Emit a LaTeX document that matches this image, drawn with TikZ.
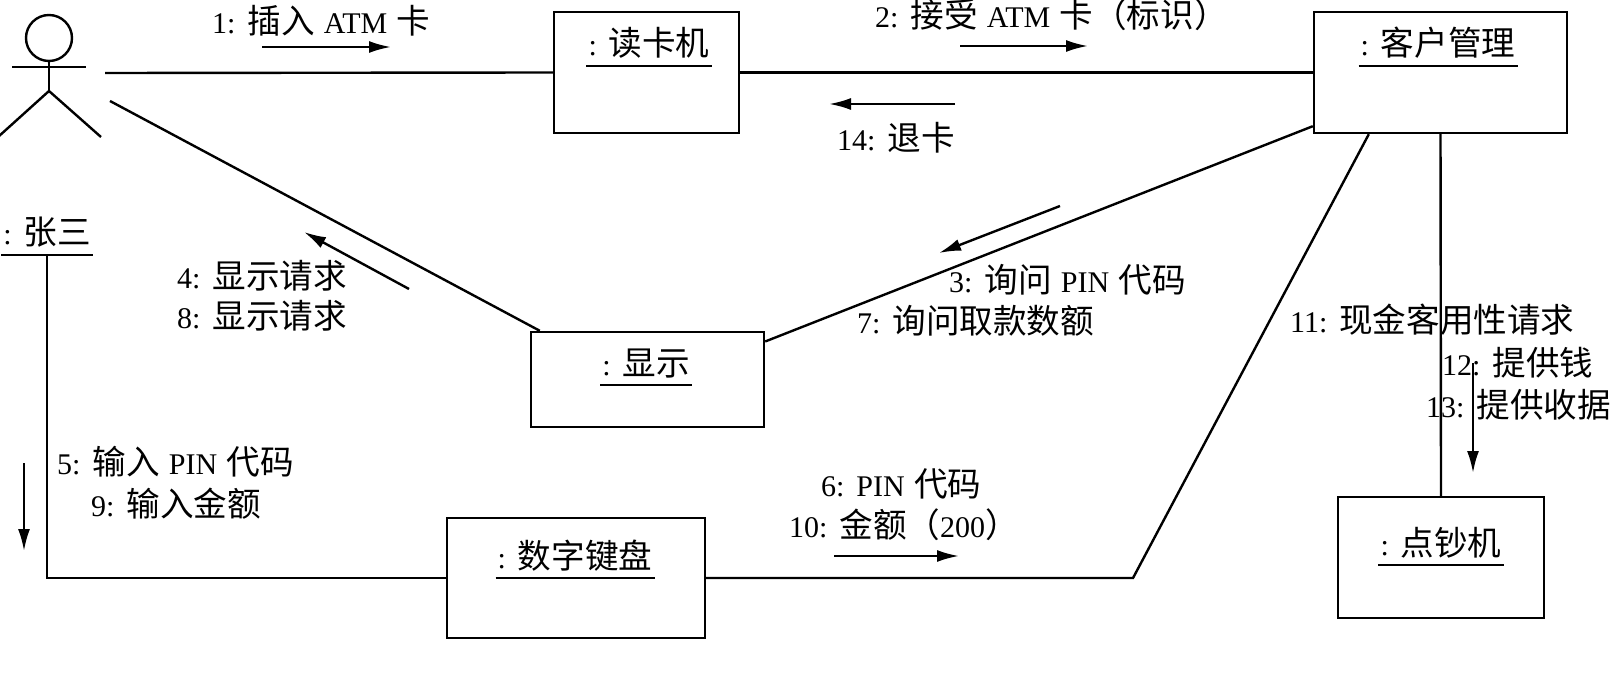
\documentclass[tikz,border=0pt]{standalone}
\usepackage{fontspec}
\setmainfont[WordSpace=1.25]{Liberation Serif}
\newfontfamily\cjk[Scale=1.12]{Noto Sans CJK SC}
\newcommand{\zh}[1]{{\cjk #1}}
\usepackage{tikz}
\usetikzlibrary{arrows.meta}

\begin{document}
\begin{tikzpicture}[x=1pt, y=-1pt, line width=2.4pt,
        every node/.style = {font=\fontsize{30}{32}\selectfont, inner sep=0pt},
        main/.style = {draw, rectangle},
        objname/.style = {anchor=base, inner sep=1pt, text height=22pt, text depth=8pt},
        msg/.style = {anchor=west},
        flow/.style = {-{Latex[length=22pt,width=12pt]}}]
            \useasboundingbox (0,0) rectangle (1614,676);

            % objects
            \node[main, minimum width=185pt, minimum height=121pt] (Reader) at (646.5,72.5) {};
            \node[main, minimum width=253pt, minimum height=121pt] (Account) at (1440.5,72.5) {};
            \node[main, minimum width=233pt, minimum height=95pt] (Display) at (647.5,379.5) {};
            \node[main, minimum width=258pt, minimum height=120pt] (Keypad) at (576,578) {};
            \node[main, minimum width=206pt, minimum height=121pt] (Cash) at (1441,557.5) {};

            \node[objname] (ReaderName) at (649,56) {: \zh{读卡机}};
            \node[objname] (AccountName) at (1438,56) {: \zh{客户管理}};
            \node[objname] (DisplayName) at (646,375) {: \zh{显示}};
            \node[objname] (KeypadName) at (575,568) {: \zh{数字键盘}};
            \node[objname] (CashName) at (1441,555) {: \zh{点钞机}};
            \node[objname] (ActorName) at (47,245) {: \zh{张三}};

            \draw (ReaderName.south west) -- (ReaderName.south east);
            \draw (AccountName.south west) -- (AccountName.south east);
            \draw (DisplayName.south west) -- (DisplayName.south east);
            \draw (KeypadName.south west) -- (KeypadName.south east);
            \draw (CashName.south west) -- (CashName.south east);
            \draw (ActorName.south west) -- (ActorName.south east);

            % the actor
            \node[draw, circle, minimum size=46pt] (Head) at (49,38) {};
            \coordinate (ArmL) at (12,67);
            \coordinate (ArmR) at (86,67);
            \coordinate (Hip) at (49,91);
            \coordinate (FootL) at (-2,137);
            \coordinate (FootR) at (101,137);
            \draw (Head.south) -- (Hip);
            \draw (ArmL) -- (ArmR);
            \draw (FootL) -- (Hip) -- (FootR);

            % links
            \coordinate (ActorTop) at (105,73);
            \coordinate (ActorLow) at (110,101);
            \coordinate (Bend) at (1133,578);
            \draw (ActorTop) -- (Reader.west);
            \draw (Reader.east) -- (Account.west);
            \draw (ActorLow) -- ([xshift=10pt]Display.north west);
            \draw ([yshift=38pt]Display.east) -- ([yshift=8pt]Account.south west);
            \draw (ActorName.south) |- (Keypad.west);
            \draw (Keypad.east) -- (Bend) -- ([xshift=56pt]Account.south west);
            \draw (Account.south) -- (Cash.north);

            % messages
            \node[msg] (MsgA) at (211,21) {1: \zh{插入} ATM \zh{卡}};
            \node[msg] (MsgB) at (874,15) {2: \zh{接受} ATM \zh{卡（标识）}};
            \node[msg] (MsgN) at (836,138) {14: \zh{退卡}};
            \node[msg] (MsgC) at (948,280) {3: \zh{询问} PIN \zh{代码}};
            \node[msg] (MsgG) at (856,321) {7: \zh{询问取款数额}};
            \node[msg] (MsgD) at (176,276) {4: \zh{显示请求}};
            \node[msg] (MsgH) at (176,316) {8: \zh{显示请求}};
            \node[msg] (MsgE) at (56,462) {5: \zh{输入} PIN \zh{代码}};
            \node[msg] (MsgI) at (90,504) {9: \zh{输入金额}};
            \node[msg] (MsgF) at (820,484) {6: PIN \zh{代码}};
            \node[msg] (MsgJ) at (788,525) {10: \zh{金额（}200\zh{）}};
            \node[msg] (MsgK) at (1289,320) {11: \zh{现金客用性请求}};
            \node[msg] (MsgL) at (1441,363) {12: \zh{提供钱}};
            \node[msg] (MsgM) at (1425,405) {13: \zh{提供收据}};

            % arrows beside the links
            \coordinate (A1) at (262,47);   \coordinate (A2) at (391,47);
            \coordinate (B1) at (960,46);   \coordinate (B2) at (1088,46);
            \coordinate (N1) at (955,104);  \coordinate (N2) at (829,104);
            \coordinate (C1) at (1060,206); \coordinate (C2) at (939,253);
            \coordinate (D1) at (409,289);  \coordinate (D2) at (304,232);
            \coordinate (E1) at (24,463);   \coordinate (E2) at (24,551);
            \coordinate (F1) at (834,556);  \coordinate (F2) at (959,556);
            \coordinate (L1) at (1473,363); \coordinate (L2) at (1473,473);
            \draw[flow] (A1) -- (A2);
            \draw[flow] (B1) -- (B2);
            \draw[flow] (N1) -- (N2);
            \draw[flow] (C1) -- (C2);
            \draw[flow] (D1) -- (D2);
            \draw[flow] (E1) -- (E2);
            \draw[flow] (F1) -- (F2);
            \draw[flow] (L1) -- (L2);
        \end{tikzpicture}
\end{document}
